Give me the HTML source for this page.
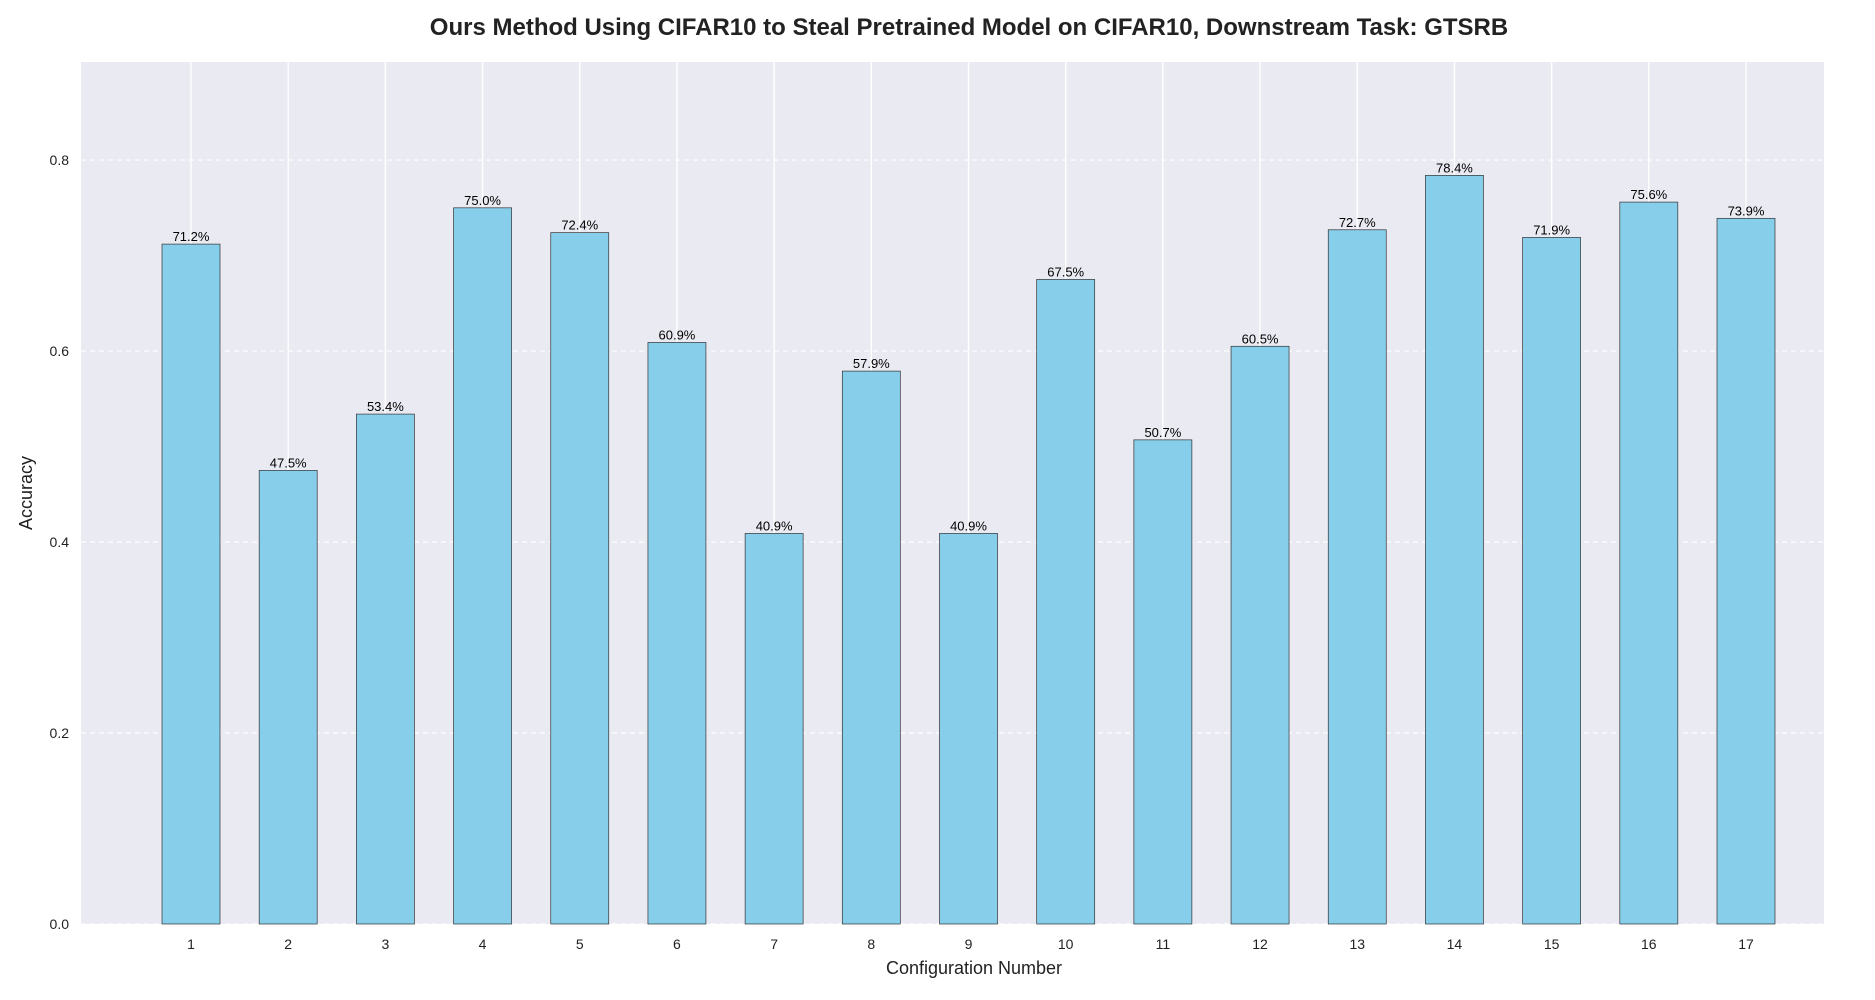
<!DOCTYPE html>
<html><head><meta charset="utf-8"><style>
html,body{margin:0;padding:0;background:#fff;}
svg{display:block;font-family:"Liberation Sans",Arial,sans-serif;}
</style></head><body>
<svg id="chart" width="1875" height="1000">
<text x="969" y="35" text-anchor="middle" font-size="24" font-weight="bold" fill="#222">Ours Method Using CIFAR10 to Steal Pretrained Model on CIFAR10, Downstream Task: GTSRB</text>
<rect x="81" y="62" width="1743" height="862" fill="#eaeaf2"/>
<g id="grid"></g>
<g id="bars"></g>
<g id="ticks"></g>
<text x="974" y="974" text-anchor="middle" font-size="18" fill="#222">Configuration Number</text>
<text transform="translate(32,493) rotate(-90)" text-anchor="middle" font-size="18" fill="#222">Accuracy</text>
</svg>
<script>
const categories=["1","2","3","4","5","6","7","8","9","10","11","12","13","14","15","16","17"];
const values=[0.712,0.475,0.534,0.750,0.724,0.609,0.409,0.579,0.409,0.675,0.507,0.605,0.727,0.784,0.719,0.756,0.739];
const yTicks=[0.0,0.2,0.4,0.6,0.8];
const NS="http://www.w3.org/2000/svg";
const pLeft=81,pRight=1824,pTop=62,pBottom=924,yMax=0.9027;
const x0=191,dx=(1746-191)/16,bw=58;
const yS=v=>pBottom-(v/yMax)*(pBottom-pTop);
const xc=i=>x0+i*dx;
function mk(t,a,p){const e=document.createElementNS(NS,t);for(const k in a)e.setAttribute(k,a[k]);p.appendChild(e);return e;}
const grid=document.getElementById('grid'),bars=document.getElementById('bars'),ticks=document.getElementById('ticks');
yTicks.forEach(v=>{
 const l=mk('line',{x1:pLeft,x2:pRight,y1:yS(v),y2:yS(v),stroke:'#fff','stroke-width':1.2,'stroke-dasharray':'5,4'},grid);
 
 
 const t=mk('text',{x:pLeft-12,y:yS(v)+5,'text-anchor':'end','font-size':14,fill:'#222'},ticks);
 t.textContent=v.toFixed(1);
 
 
});
categories.forEach((c,i)=>{
 const l=mk('line',{x1:xc(i),x2:xc(i),y1:pTop,y2:pBottom,stroke:'#fff','stroke-width':1.4},grid);
 
 
 const r=mk('rect',{x:xc(i)-bw/2,y:yS(values[i]),width:bw,height:pBottom-yS(values[i]),fill:'#87ceeb',stroke:'#333','stroke-width':0.7},bars);
 
 
 const lb=mk('text',{x:xc(i),y:yS(values[i])-3,'text-anchor':'middle','font-size':13,fill:'#000'},bars);
 lb.textContent=(values[i]*100).toFixed(1)+'%';
 
 
 const t=mk('text',{x:xc(i),y:949,'text-anchor':'middle','font-size':14,fill:'#222'},ticks);
 t.textContent=c;
 
 
});
</script>
</body></html>
